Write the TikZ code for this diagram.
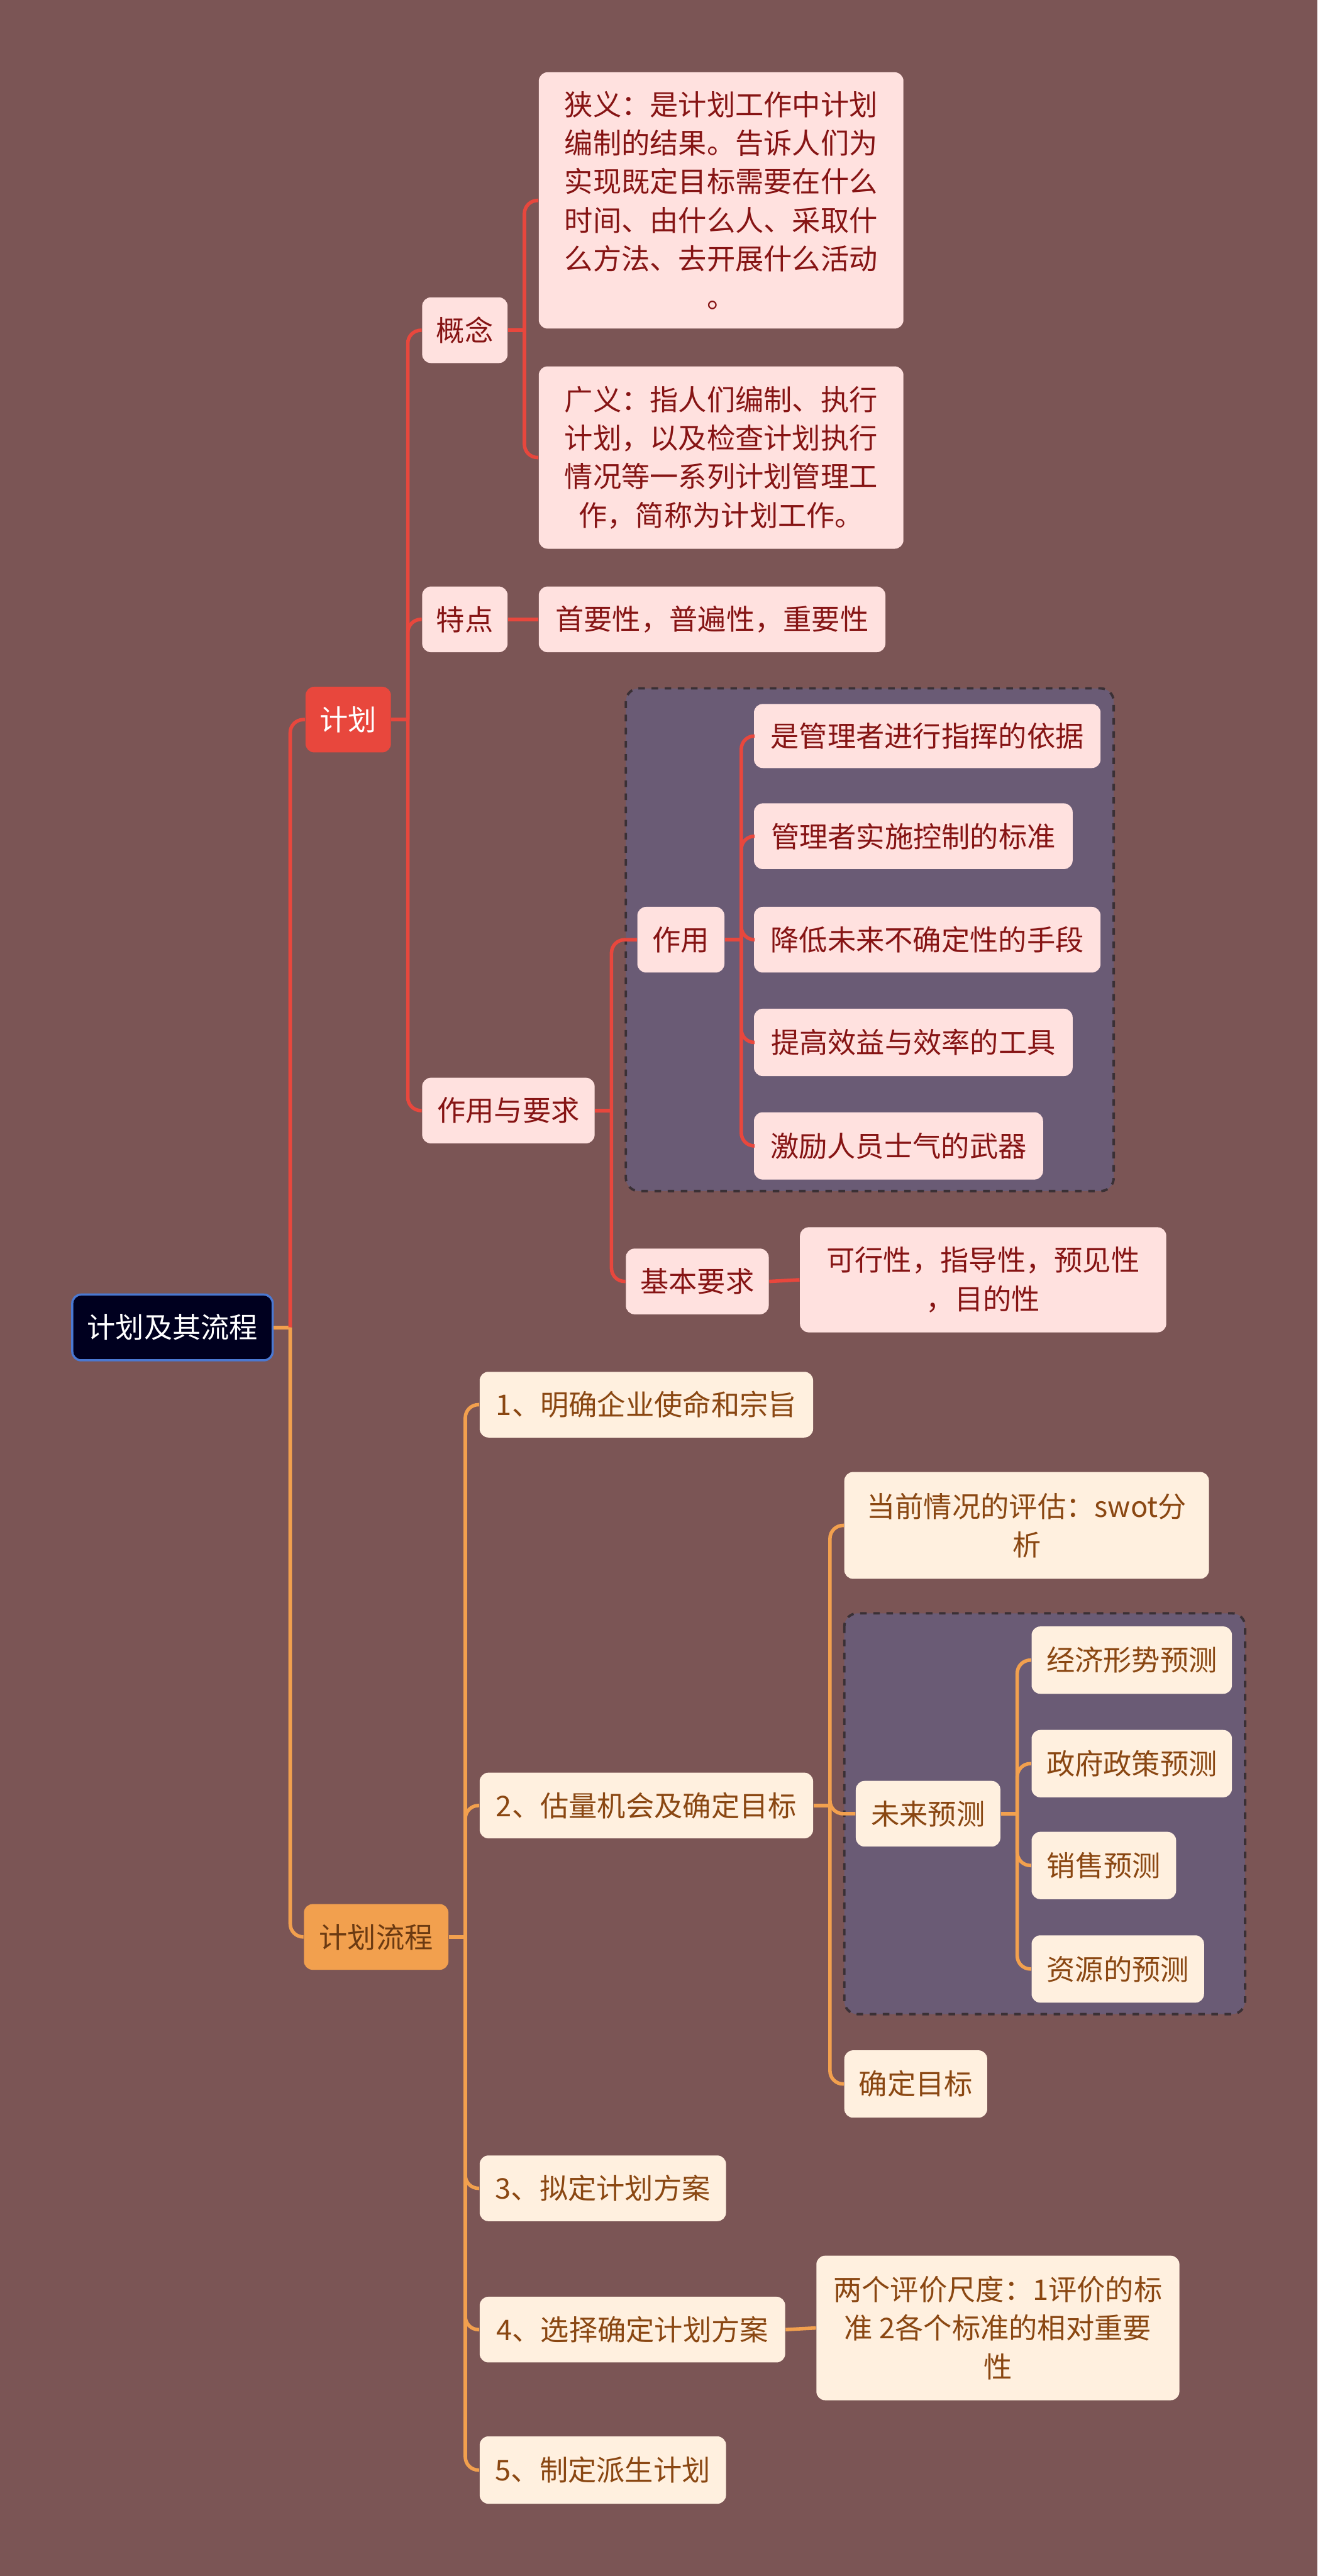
\documentclass[tikz,border=0pt]{standalone}
\usepackage{fontspec}
\newfontfamily\cjk{Noto Sans CJK SC}
\definecolor{bg}{HTML}{7B5555}
\definecolor{redl}{HTML}{E8473D}
\definecolor{orgl}{HTML}{F2A04E}
\definecolor{pinkf}{HTML}{FFE1DF}
\definecolor{pinkt}{HTML}{861414}
\definecolor{creamf}{HTML}{FFF0DF}
\definecolor{creamt}{HTML}{8A4712}
\definecolor{grpf}{HTML}{6A5B75}
\definecolor{grpd}{HTML}{3A3035}
\definecolor{rootf}{HTML}{00001F}
\definecolor{rootb}{HTML}{4A78D2}
\definecolor{lct}{HTML}{6B3A12}
\newcommand\mmlink[3]{%
  \draw[#1] (#2.east) -- ++(10,0) coordinate (tmpj);
  \draw[#1, rounded corners=6pt] (tmpj) |- (#3.west);}
\tikzset{
  x=0.75pt, y=-0.75pt,
  base/.style={rectangle, rounded corners=4pt, inner sep=0pt, align=center,
    font=\cjk\fontsize{13}{17.6}\selectfont},
  sz/.style 2 args={minimum width=#1*0.75pt, minimum height=#2*0.75pt},
  pk/.style={base, fill=pinkf, text=pinkt},
  cr/.style={base, fill=creamf, text=creamt},
  rl/.style={draw=redl, line width=1.6pt},
  ol/.style={draw=orgl, line width=1.6pt},
  grp/.style={draw=grpd, dashed, line width=1.1pt, fill=grpf, rounded corners=6pt},
}
\begin{document}
\begin{tikzpicture}
\useasboundingbox (0,0) rectangle (802,1568);
\fill[bg] (0,0) rectangle (802,1568);
% group frames
\draw[grp] (381,419) rectangle (678,725);
\draw[grp] (514,982) rectangle (758,1226);
% nodes
\node[base, sz={122}{40}, fill=rootf, draw=rootb, line width=1pt, text=white] (root) at (105,808) {计划及其流程};
\node[base, sz={52}{40}, fill=redl, text=white] (jh) at (212,438) {计划};
\node[pk, sz={52}{40}] (gn) at (283,201) {概念};
\node[pk, sz={52}{40}] (td) at (283,377) {特点};
\node[pk, sz={105}{40}] (zy) at (309.5,676) {作用与要求};
\node[pk, sz={222}{156}] (xy) at (439,122) {狭义：是计划工作中计划\\编制的结果。告诉人们为\\实现既定目标需要在什么\\时间、由什么人、采取什\\么方法、去开展什么活动\\。};
\node[pk, sz={222}{111}] (gy) at (439,278.5) {广义：指人们编制、执行\\计划，以及检查计划执行\\情况等一系列计划管理工\\作，简称为计划工作。};
\node[pk, sz={211}{40}] (tdc) at (433.5,377) {首要性，普遍性，重要性};
\node[pk, sz={53}{40}] (zyy) at (414.5,572) {作用};
\node[pk, sz={211}{39}] (z1) at (564.5,448) {是管理者进行指挥的依据};
\node[pk, sz={194}{40}] (z2) at (556,509) {管理者实施控制的标准};
\node[pk, sz={211}{40}] (z3) at (564.5,572) {降低未来不确定性的手段};
\node[pk, sz={194}{41}] (z4) at (556,634.5) {提高效益与效率的工具};
\node[pk, sz={176}{41}] (z5) at (547,697.5) {激励人员士气的武器};
\node[pk, sz={87}{40}] (jb) at (424.5,780) {基本要求};
\node[pk, sz={223}{64}] (jbc) at (598.5,779) {可行性，指导性，预见性\\，目的性};
\node[base, sz={88}{40}, fill=orgl, text=lct] (lc) at (229,1179) {计划流程};
\node[cr, sz={203}{40}] (s1) at (393.5,855) {1、明确企业使命和宗旨};
\node[cr, sz={203}{40}] (s2) at (393.5,1099) {2、估量机会及确定目标};
\node[cr, sz={150}{40}] (s3) at (367,1332) {3、拟定计划方案};
\node[cr, sz={186}{40}] (s4) at (385,1418) {4、选择确定计划方案};
\node[cr, sz={150}{41}] (s5) at (367,1503.5) {5、制定派生计划};
\node[cr, sz={222}{65}] (dq) at (625,928.5) {当前情况的评估：swot分\\析};
\node[cr, sz={88}{40}] (wl) at (565,1104) {未来预测};
\node[cr, sz={122}{41}] (w1) at (689,1010.5) {经济形势预测};
\node[cr, sz={122}{41}] (w2) at (689,1073.5) {政府政策预测};
\node[cr, sz={88}{41}] (w3) at (672,1135.5) {销售预测};
\node[cr, sz={105}{41}] (w4) at (680.5,1198.5) {资源的预测};
\node[cr, sz={87}{41}] (qd) at (557.5,1268.5) {确定目标};
\node[cr, sz={221}{88}] (pj) at (607.5,1417) {两个评价尺度：1评价的标\\准 2各个标准的相对重要\\性};
% connectors: root
\draw[ol] (root.east) -- ++(10,0) coordinate (rj);
\draw[rl, rounded corners=6pt] (rj) |- (jh.west);
\draw[ol, rounded corners=6pt] (rj) |- (lc.west);
% red branch
\mmlink{rl}{jh}{gn}
\mmlink{rl}{jh}{td}
\mmlink{rl}{jh}{zy}
\mmlink{rl}{gn}{xy}
\mmlink{rl}{gn}{gy}
\draw[rl] (td.east) -- (tdc.west);
\mmlink{rl}{zy}{zyy}
\mmlink{rl}{zy}{jb}
\mmlink{rl}{zyy}{z1}
\mmlink{rl}{zyy}{z2}
\mmlink{rl}{zyy}{z3}
\mmlink{rl}{zyy}{z4}
\mmlink{rl}{zyy}{z5}
\draw[rl] (jb.east) -- (jbc.west);
% orange branch
\mmlink{ol}{lc}{s1}
\mmlink{ol}{lc}{s2}
\mmlink{ol}{lc}{s3}
\mmlink{ol}{lc}{s4}
\mmlink{ol}{lc}{s5}
\mmlink{ol}{s2}{dq}
\mmlink{ol}{s2}{wl}
\mmlink{ol}{s2}{qd}
\mmlink{ol}{wl}{w1}
\mmlink{ol}{wl}{w2}
\mmlink{ol}{wl}{w3}
\mmlink{ol}{wl}{w4}
\draw[ol] (s4.east) -- (pj.west);
\end{tikzpicture}
\end{document}
